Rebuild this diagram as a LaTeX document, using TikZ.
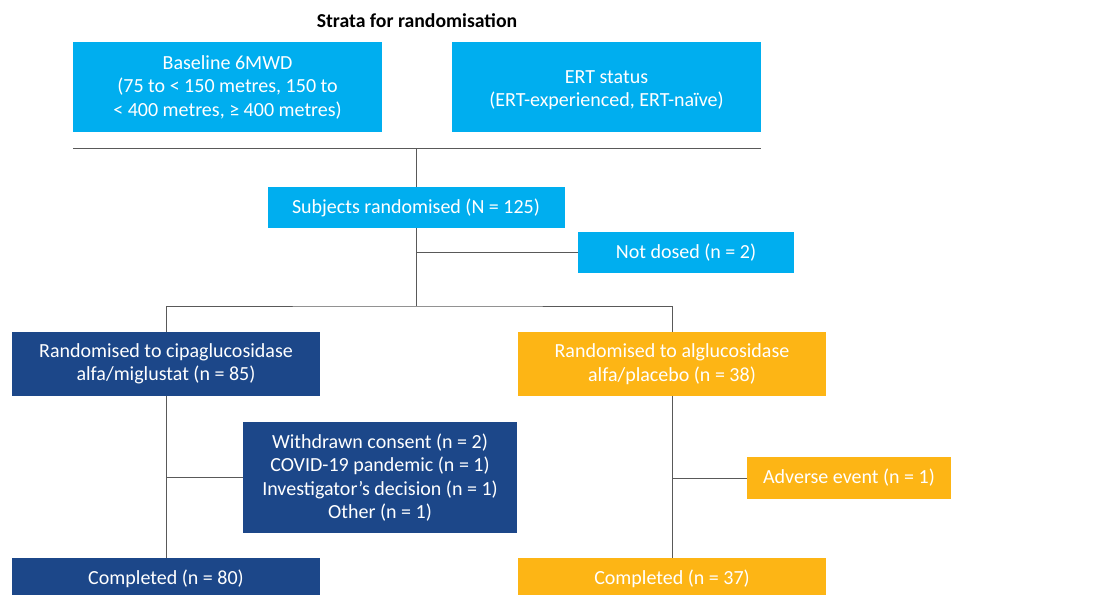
\documentclass[tikz,border=0pt]{standalone}
\usepackage{fontspec}
\setmainfont{Carlito}
\usetikzlibrary{positioning}
\newdimen\px \px=0.75pt
\definecolor{lblue}{HTML}{00AEEF}
\definecolor{dblue}{HTML}{1C4789}
\definecolor{orng}{HTML}{FDB515}
\definecolor{lgray}{HTML}{595959}
\tikzset{
  box/.style={fill=#1, text=white, align=center, inner sep=0pt, font=\fontsize{15}{17.6}\selectfont},
  conn/.style={draw=lgray, line width=0.9\px},
}
\begin{document}
\begin{tikzpicture}[x=0.75pt,y=-0.75pt]
\clip (0,0) rectangle (1114,594);
\useasboundingbox (0,0) rectangle (1114,594);
\fill[white] (0,0) rectangle (1114,594);
\node[font=\bfseries\fontsize{14.8}{16}\selectfont] (title) at (417,21) {Strata for randomisation};
\node[box=lblue, minimum width=309\px, minimum height=90\px] (base) at (227.5,87) {Baseline 6MWD\\(75 to < 150 metres, 150 to\\< 400 metres, ≥ 400 metres)};
\node[box=lblue, minimum width=309\px, minimum height=90\px] (ert) at (606.5,87) {};
\node[box=none, text=white] (ertt) at (606.5,90) {ERT status\\(ERT-experienced, ERT-naïve)};
\coordinate (hl) at (73,148);
\coordinate (hr) at (761,148);
\coordinate (hm) at (416,148);
\draw[conn] (hl) -- (hr);
\node[box=lblue, minimum width=297\px, minimum height=41\px] (subj) at (416,207.5) {Subjects randomised (N = 125)};
\node[box=lblue, minimum width=216\px, minimum height=41\px] (nd) at (686,252.5) {Not dosed (n = 2)};
\node[box=dblue, minimum width=308\px, minimum height=64\px] (lft) at (166,364) {Randomised to cipaglucosidase\\alfa/miglustat (n = 85)};
\node[box=orng, minimum width=308\px, minimum height=64\px] (rgt) at (672,364) {Randomised to alglucosidase\\alfa/placebo (n = 38)};
\node[box=dblue, minimum width=274\px, minimum height=111\px] (wd) at (380,477.5) {Withdrawn consent (n = 2)\\COVID-19 pandemic (n = 1)\\Investigator’s decision (n = 1)\\Other (n = 1)};
\node[box=orng, minimum width=204\px, minimum height=42\px] (ae) at (849,478) {Adverse event (n = 1)};
\node[box=dblue, minimum width=308\px, minimum height=42\px] (cl) at (166,579) {Completed (n = 80)};
\node[box=orng, minimum width=308\px, minimum height=42\px] (cr) at (672,579) {Completed (n = 37)};
\draw[conn] (hm) -- (subj.north);
\draw[conn] (subj.south) -- (416,306) coordinate (split);
\draw[conn] (subj.south |- nd.west) -- (nd.west);
\draw[conn] (lft.north) |- (split) -| (rgt.north);
\draw[conn] (lft.south) -- (cl.north);
\draw[conn] (rgt.south) -- (cr.north);
\draw[conn] (lft.south |- wd.west) -- (wd.west);
\draw[conn] (rgt.south |- ae.west) -- (ae.west);
\end{tikzpicture}
\end{document}
